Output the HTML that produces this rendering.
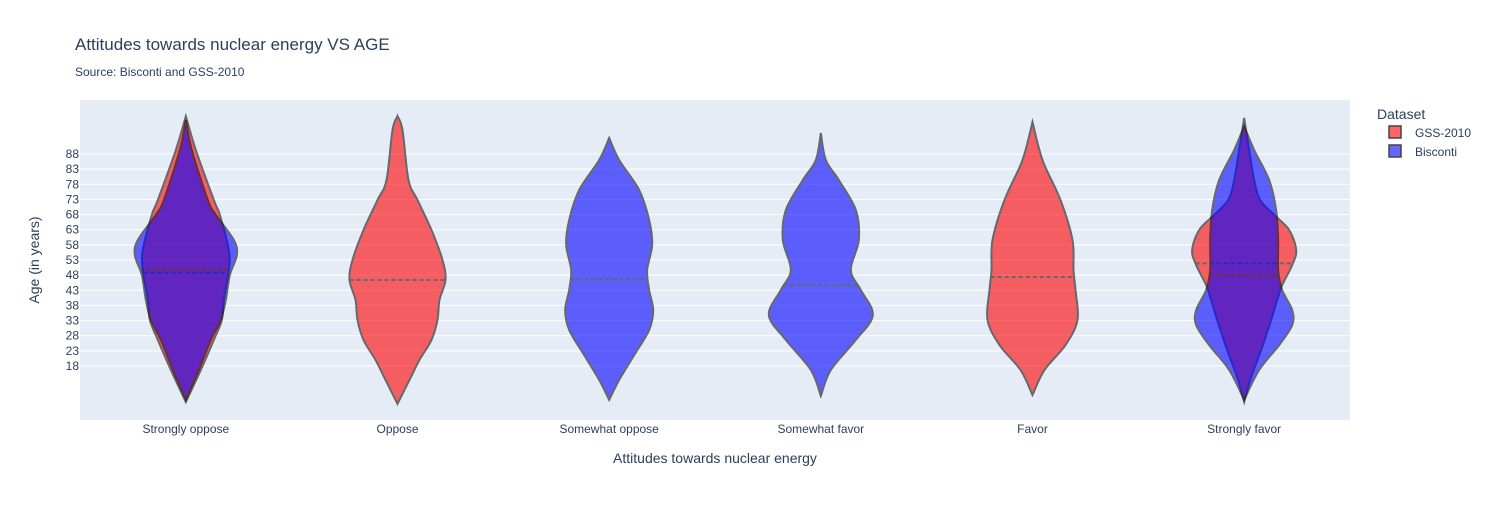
<!DOCTYPE html>
<html><head><meta charset="utf-8"><style>
body{margin:0;background:#fff;font-family:"Liberation Sans",sans-serif;}
svg text{font-family:"Liberation Sans",sans-serif;fill:#2a3f5f;}
</style></head><body>
<svg id="chart" width="1488" height="500" xmlns="http://www.w3.org/2000/svg">
<rect width="1488" height="500" fill="#fff"/>
<text x="75" y="50" font-size="17">Attitudes towards nuclear energy VS AGE</text>
<text x="75" y="76" font-size="12">Source: Bisconti and GSS-2010</text>
<rect x="80" y="100" width="1270" height="320" fill="#e5ecf6"/>
<g id="grid"></g><g id="yticks"></g><g id="xticks"></g><g id="violins"></g>
<text transform="translate(39,260) rotate(-90)" text-anchor="middle" font-size="14">Age (in years)</text>
<text x="715" y="463" text-anchor="middle" font-size="14">Attitudes towards nuclear energy</text>
<g>
<text x="1377" y="119" font-size="14">Dataset</text>
<g><rect x="1389" y="126" width="12" height="12" fill="rgba(255,0,0,0.6)" stroke="#444" stroke-width="1.5"/><text x="1415" y="137" font-size="12">GSS-2010</text></g>
<g><rect x="1389" y="145" width="12" height="12" fill="rgba(0,0,255,0.6)" stroke="#444" stroke-width="1.5"/><text x="1415" y="156" font-size="12">Bisconti</text></g>
</g>
</svg>
<script>
const categories=["Strongly oppose","Oppose","Somewhat oppose","Somewhat favor","Favor","Strongly favor"];
const yTicks=[18,23,28,33,38,43,48,53,58,63,68,73,78,83,88];
// GSS-2010 violins: ages and density (half-width) values
const gssCat=[0,1,4,5];
const gssAges=[
[100.5,89.3,72.8,67.9,56.3,49.7,39.8,33.2,26.6,16.7,6.1],
[100.5,95.9,79.4,72.8,62.9,53.0,46.4,39.8,33.2,26.6,20.0,13.4,5.5],
[98.6,86.0,72.8,59.6,49.7,43.1,33.2,24.9,16.7,8.4],
[99.9,89.3,79.4,72.8,67.9,62.9,56.3,51.3,44.7,39.8,33.2,23.3,13.4,6.1]];
const gssDens=[
[0,10,28,34,43,43,38,36,28,15,0],
[0,5,11,20,34,45,48,42,40,34,22,12,0],
[0,10,28,40,41,43,45,33,12,0],
[0,5,10,16,30,45,52,48,38,33,27,17,6,0]];
const gssMeans=[48.8,46.4,47.4,51.9];
// Bisconti violins
const bisCat=[0,2,3,5];
const bisAges=[
[99.2,89.3,72.8,67.9,59.6,54.6,48.0,39.8,33.2,26.6,16.7,6.8],
[93.3,86.0,76.1,66.2,58.0,49.7,43.1,36.5,29.9,21.6,13.4,6.8],
[94.9,86.0,79.4,69.5,59.6,49.7,43.1,34.8,26.6,16.7,8.1],
[97.2,89.3,79.4,69.5,59.6,49.7,43.1,36.5,31.5,24.9,16.7,6.8]];
const bisDens=[
[0,6,22,30,48,51,44,40,35,25,13,0],
[0,10,30,40,43,38,40,44,40,25,10,0],
[0,5,18,35,38,30,40,52,35,10,0],
[0,10,25,32,34,34,38,48,48,35,15,0]];
const bisMeans=[49.7,46.7,44.7,48.0];

const NS="http://www.w3.org/2000/svg";
const X0=80,PW=1270,Y18=366,PPY=3.029;
const xScale=i=>X0+PW/categories.length*(i+0.5);
const yScale=a=>Y18-(a-18)*PPY;
const wScale=d=>d;
function mk(tag,attrs,parent){const e=document.createElementNS(NS,tag);for(const k in attrs)e.setAttribute(k,attrs[k]);parent.appendChild(e);return e;}
const grid=document.getElementById('grid'),yt=document.getElementById('yticks'),xt=document.getElementById('xticks'),vg=document.getElementById('violins');
yTicks.forEach(t=>{
 const l=mk('line',{x1:80,x2:1350,y1:yScale(t),y2:yScale(t),stroke:'#fff','stroke-width':1},grid);
 
 
 const tx=mk('text',{x:79,y:yScale(t)+4,'text-anchor':'end','font-size':12},yt);tx.textContent=t;
 
 
});
categories.forEach((c,i)=>{
 const tx=mk('text',{x:xScale(i),y:433,'text-anchor':'middle','font-size':12},xt);tx.textContent=c;
 
 
});
function curve(pts){let d='M'+pts[0][0]+','+pts[0][1];
 for(let i=0;i<pts.length-1;i++){const p0=pts[i-1]||pts[i],p1=pts[i],p2=pts[i+1],p3=pts[i+2]||p2;
  const c1=[p1[0]+(p2[0]-p0[0])/6,p1[1]+(p2[1]-p0[1])/6],c2=[p2[0]-(p3[0]-p1[0])/6,p2[1]-(p3[1]-p1[1])/6];
  d+=' C'+c1+' '+c2+' '+p2;}return d;}
function interp(ages,dens,a){for(let i=0;i<ages.length-1;i++){if(a<=ages[i]&&a>=ages[i+1]){const t=(ages[i]-a)/(ages[i]-ages[i+1]);return dens[i]+t*(dens[i+1]-dens[i]);}}return 0;}
function violin(cat,ages,dens,mean,color,name){
 const cx=xScale(cat);
 const right=ages.map((a,k)=>[cx+wScale(dens[k]),yScale(a)]);
 const left=ages.map((a,k)=>[cx-wScale(dens[k]),yScale(a)]).reverse();
 const d=curve(right)+' L'+left[0]+' '+curve(left).slice(1)+' Z';
 const g=mk('g',{opacity:0.6},vg);
 
 
 mk('path',{d:d,fill:color,stroke:'#111','stroke-width':2},g);
 const w=wScale(interp(ages,dens,mean));
 mk('line',{x1:cx-w,x2:cx+w,y1:yScale(mean),y2:yScale(mean),stroke:'#111','stroke-width':2,'stroke-dasharray':'4,3'},g);
}
gssCat.forEach((c,k)=>violin(c,gssAges[k],gssDens[k],gssMeans[k],'#ff0000','gss-violin-'+k));
bisCat.forEach((c,k)=>violin(c,bisAges[k],bisDens[k],bisMeans[k],'#0000ff','bisconti-violin-'+k));
</script>
</body></html>
